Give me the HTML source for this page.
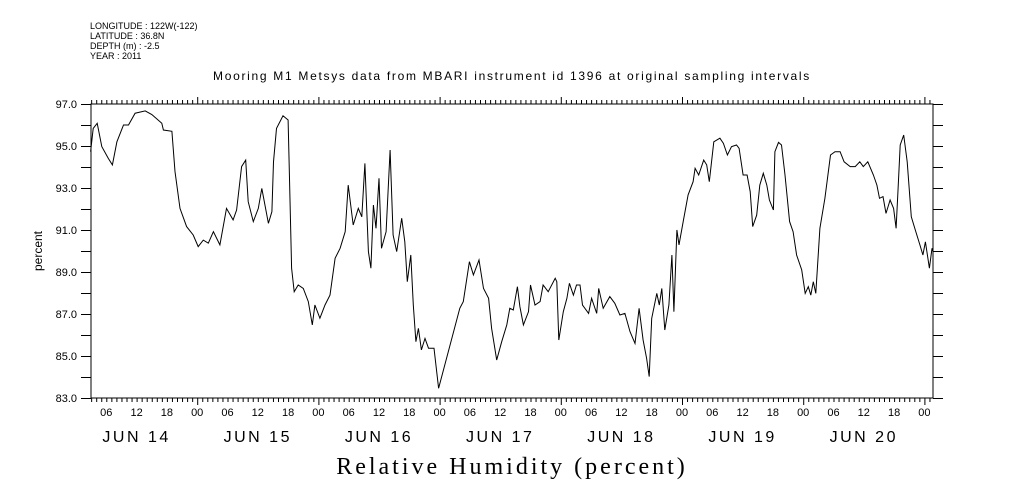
<!DOCTYPE html>
<html><head><meta charset="utf-8"><style>
html,body{margin:0;padding:0;background:#fff;}
svg{display:block;font-family:"Liberation Sans",sans-serif;}
</style></head><body>
<svg id="chart" width="1009" height="504" viewBox="0 0 1009 504" xmlns="http://www.w3.org/2000/svg">
<g font-size="9" fill="#000">
<text x="90" y="29">LONGITUDE : 122W(-122)</text>
<text x="90" y="39">LATITUDE : 36.8N</text>
<text x="90" y="49">DEPTH (m) : -2.5</text>
<text x="90" y="59">YEAR : 2011</text>
</g>
<text x="512" y="80" font-size="12" letter-spacing="1.7" text-anchor="middle">Mooring M1 Metsys data from MBARI instrument id 1396 at original sampling intervals</text>
<text transform="translate(42,251) rotate(-90)" font-size="12" text-anchor="middle">percent</text>
<text x="512" y="474" font-family="Liberation Serif, serif" font-size="24" letter-spacing="3" text-anchor="middle">Relative Humidity (percent)</text>
<g id="axes"></g>
<g id="series"></g>
</svg>
<script>
const hours=[2.9,3.4,4.2,5.1,6.4,7.2,8.1,9.4,10.4,11.7,13.7,15,17,17.3,19,19.6,20.6,21.9,23.2,24.2,25.2,26.2,27.2,28.5,29.8,31.1,31.8,32.8,33.6,34.1,35.1,36.1,36.8,38.1,38.8,39.1,39.7,41,42,42.2,42.7,43.2,44,45,46,46.8,47.3,48.3,49.3,50.3,51.3,52.3,53.3,53.9,54.9,55.9,56.6,57.2,57.9,58.4,58.9,59.4,60,60.5,61.4,62.2,62.8,63.5,64.5,65.1,65.6,66.3,66.8,67.3,67.8,68.4,69.1,69.8,70.9,71.8,76,76.7,77.9,78.7,79.8,80.7,81.7,82.3,83.3,84.3,85.3,85.9,86.6,87.4,87.9,88.6,89.6,90,90.9,91.9,92.5,93.5,94.9,95.2,95.6,96.5,97.2,97.7,98.5,99.1,99.8,100.3,101.5,102.1,103.1,103.5,104.4,105.7,106.7,107.7,108.7,109.7,110.7,111.5,112.3,113,113.5,114,115,115.5,116,116.6,117.4,118,118.4,119,119.4,120.3,121.2,122.2,122.6,123.3,124.3,124.9,125.4,126.3,127.5,128.2,129,129.8,130.8,131.3,132.1,132.9,133.5,134,134.8,135.4,136.1,136.8,137.3,138.1,138.4,139.1,139.7,140.4,141.3,142,142.7,143.7,144.4,145,145.5,146,146.5,147.3,148.3,149.4,150.3,151.3,152.1,153.3,154.3,155.2,155.9,156.8,157.9,158.6,159.1,159.8,160.4,161.2,161.9,162.4,162.8,163.2,163.9,164.6,165.4,166.2,167.1,167.7,168.2,169,169.5,169.7];
const humidity=[94.73,95.84,96.08,94.97,94.41,94.1,95.2,96.0,96.0,96.56,96.67,96.5,96.08,95.76,95.7,93.78,92.03,91.16,90.76,90.21,90.52,90.37,90.92,90.29,92.03,91.48,91.95,94.02,94.33,92.35,91.4,92.03,92.98,91.32,91.87,94.25,95.84,96.44,96.24,94.25,89.18,88.06,88.38,88.22,87.59,86.48,87.43,86.8,87.43,87.9,89.65,90.13,90.92,93.14,91.24,92.03,91.63,94.17,89.97,89.18,92.19,91.08,93.46,90.13,90.92,94.81,90.76,89.97,91.56,90.44,88.54,89.81,87.43,85.68,86.32,85.29,85.84,85.37,85.37,83.46,87.27,87.59,89.49,88.86,89.57,88.22,87.75,86.32,84.81,85.68,86.48,87.27,87.19,88.3,87.35,86.48,87.11,88.38,87.43,87.59,88.38,88.06,88.7,88.54,85.76,87.11,87.75,88.46,87.9,88.38,88.38,87.43,87.03,87.75,87.03,88.22,87.27,87.83,87.51,86.95,87.03,86.16,85.6,87.27,85.76,84.89,84.02,86.79,87.98,87.43,88.22,86.24,87.43,89.81,87.11,91.0,90.29,91.48,92.67,93.3,93.94,93.62,94.33,94.1,93.3,95.2,95.37,95.13,94.57,94.97,95.05,94.89,93.62,93.62,92.83,91.16,91.71,93.14,93.7,93.14,92.43,91.95,94.73,95.17,95.05,93.62,91.4,90.92,89.81,89.1,87.98,88.3,87.9,88.54,87.98,91.08,92.51,94.57,94.73,94.73,94.25,94.02,94.02,94.25,94.02,94.25,93.62,93.14,92.51,92.59,91.79,92.43,92.03,91.08,92.98,95.05,95.52,94.25,91.63,91.0,90.29,89.81,90.44,89.18,90.13,89.97];
const yTicks=[83,84,85,86,87,88,89,90,91,92,93,94,95,96,97];
const yLabels=["83.0","85.0","87.0","89.0","91.0","93.0","95.0","97.0"];
const dayLabels=["JUN 14","JUN 15","JUN 16","JUN 17","JUN 18","JUN 19","JUN 20"];
const hourLabels=["06","12","18","00"];

const L=91,R=933,T=104,B=398;
const H0=76,PXH=5.05;
const xS=h=>H0+h*PXH;
const yS=v=>T+(97-v)*(B-T)/14;
const NS="http://www.w3.org/2000/svg";
const ax=document.getElementById('axes');
function mk(tag,attrs,parent){const e=document.createElementNS(NS,tag);for(const k in attrs)e.setAttribute(k,attrs[k]);parent.appendChild(e);return e;}
const frame=mk('rect',{x:L,y:T,width:R-L,height:B-T,fill:'none',stroke:'#000','stroke-width':1},ax);


const hStart=Math.ceil((L-H0)/PXH),hEnd=Math.floor((R-H0)/PXH);
for(let h=hStart;h<=hEnd;h++){
 const x=xS(h)+0.5;const len=(h%24===0)?7:4;
 const t1=mk('line',{x1:x,x2:x,y1:T,y2:T-len,stroke:'#000'},ax);
 
 
 const t2=mk('line',{x1:x,x2:x,y1:B,y2:B+len,stroke:'#000'},ax);
 
 
 if(h%6===0){
  const lab=mk('text',{x:xS(h),y:416,'font-size':11,'text-anchor':'middle'},ax);
  lab.textContent=hourLabels[((h/6)%4+3)%4];
  
  
 }
}
dayLabels.forEach((d,i)=>{
 const t=mk('text',{x:xS(i*24+12),y:442,'font-size':16,'letter-spacing':2.5,'text-anchor':'middle'},ax);
 t.textContent=d;
 
 
});
yTicks.forEach(v=>{
 const y=yS(v)+0.5;
 const a=mk('line',{x1:L,x2:L-10,y1:y,y2:y,stroke:'#000'},ax);
 
 
 const b=mk('line',{x1:R,x2:R+10,y1:y,y2:y,stroke:'#000'},ax);
 
 
});
yLabels.forEach(s=>{
 const t=mk('text',{x:77,y:yS(parseFloat(s))+4,'font-size':11,'text-anchor':'end'},ax);
 t.textContent=s;
 
 
});
const pts=hours.map((h,i)=>xS(h).toFixed(1)+','+yS(humidity[i]).toFixed(1)).join(' ');
const line=mk('polyline',{points:pts,fill:'none',stroke:'#000','stroke-width':1},document.getElementById('series'));


</script>
</body></html>
